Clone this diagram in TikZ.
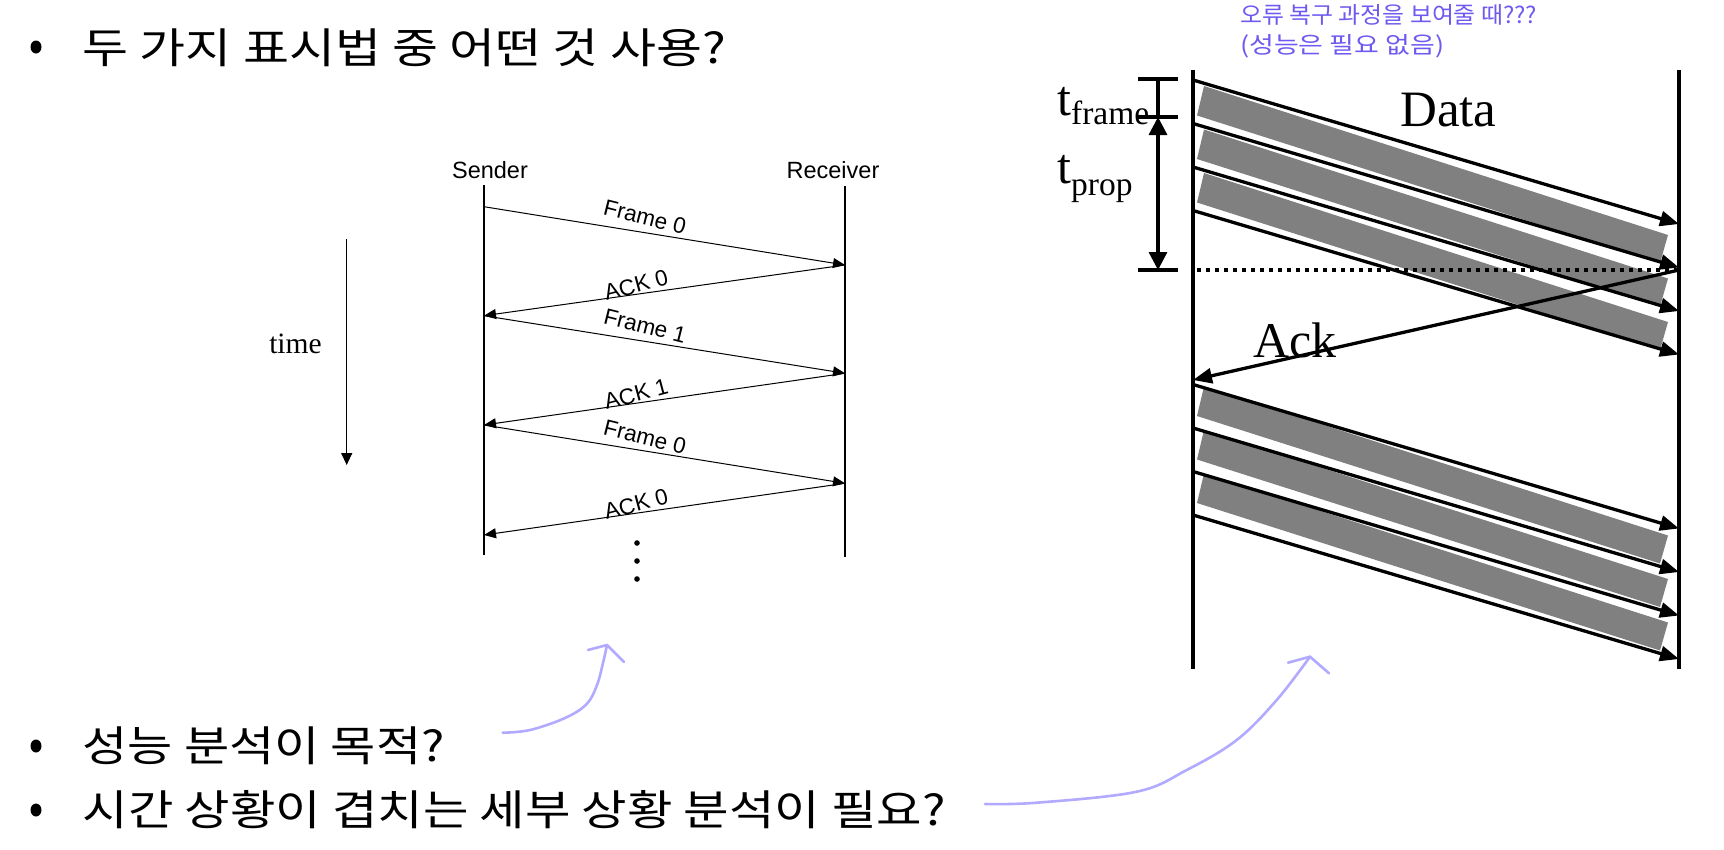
\documentclass[tikz,border=0pt]{standalone}
\usepackage{fontspec}
\usepackage{graphicx}
\usetikzlibrary{arrows.meta}
\setmainfont{Liberation Serif}
\newfontfamily\arialf{Liberation Sans}
\newfontfamily\timesf{Liberation Serif}
\newfontfamily\krf{Noto Sans CJK KR}[WordSpace=2]
\newfontfamily\krnote{Noto Sans CJK KR}
\definecolor{notecol}{RGB}{110,90,240}
\definecolor{handcol}{RGB}{178,170,255}
\definecolor{bargray}{RGB}{128,128,128}
\begin{document}
\begin{tikzpicture}[x=1pt,y=-1pt,
  lifeline/.style={line width=1.2pt},
  msg/.style={line width=1pt,-{Triangle[length=12pt,width=10pt]}},
  msglabel/.style={font=\arialf\fontsize{22.5}{22.5}\selectfont, inner sep=0pt},
  heavy/.style={line width=3.3pt},
  dataarrow/.style={line width=3.3pt,-{Triangle[length=19pt,width=15pt]}},
  barshape/.style={fill=bargray, draw=none},
  hand/.style={draw=handcol, line width=2.6pt, line cap=round, line join=round},
  bulletdot/.style={fill=black},
  krtext/.style={anchor=west, inner sep=0pt}]
\fill[white] (0,0) rectangle (1724,849);
\useasboundingbox (0,0) rectangle (1724,849);

% ---------- bullets ----------
\fill[bulletdot] (36,47) ellipse [x radius=5.5pt, y radius=6.5pt];
\fill[bulletdot] (36,746) ellipse [x radius=5.5pt, y radius=6.5pt];
\fill[bulletdot] (36,810) ellipse [x radius=5.5pt, y radius=6.5pt];
\node[krtext] (b1) at (82.5,48) {\resizebox{643pt}{\height}{\krf\fontsize{42}{42}\selectfont 두 가지 표시법 중 어떤 것 사용?}};
\node[krtext] (b2) at (82.5,745.5) {\resizebox{362pt}{\height}{\krf\fontsize{42}{42}\selectfont 성능 분석이 목적?}};
\node[krtext] (b3) at (82.5,810) {\resizebox{863pt}{\height}{\krf\fontsize{42}{42}\selectfont 시간 상황이 겹치는 세부 상황 분석이 필요?}};

% ---------- annotation ----------
\node[krtext, text=notecol] (n1) at (1240,15) {\resizebox{297pt}{\height}{\krnote\fontsize{23}{23}\selectfont 오류 복구 과정을 보여줄 때???}};
\node[krtext, text=notecol] (n2) at (1240,46) {\resizebox{204pt}{\height}{\krnote\fontsize{23}{23}\selectfont (성능은 필요 없음)}};

% ---------- left diagram ----------
\node[font=\arialf\fontsize{23.5}{23.5}\selectfont, inner sep=0pt] (sender) at (490,170) {Sender};
\node[font=\arialf\fontsize{23.5}{23.5}\selectfont, inner sep=0pt] (receiver) at (833,170) {Receiver};
\coordinate (sTop) at (484,185);
\coordinate (sBot) at (484,555);
\coordinate (rTop) at (845,186);
\coordinate (rBot) at (845,557);
\draw[lifeline] (sTop) -- (sBot);
\draw[lifeline] (rTop) -- (rBot);
\coordinate (S0) at (484,206.7);
\coordinate (R0) at (845,265);
\coordinate (S1) at (484,315.7);
\coordinate (R1) at (845,373.3);
\coordinate (S2) at (484,425);
\coordinate (R2) at (845,483.3);
\coordinate (S3) at (484,535);
\draw[msg] (S0) -- (R0);
\draw[msg] (R0) -- (S1);
\draw[msg] (S1) -- (R1);
\draw[msg] (R1) -- (S2);
\draw[msg] (S2) -- (R2);
\draw[msg] (R2) -- (S3);
\node[msglabel, rotate=-14] (l1) at (645,217) {Frame 0};
\node[msglabel, rotate=15] (l2) at (636,285) {ACK 0};
\node[msglabel, rotate=-14] (l3) at (645,326) {Frame 1};
\node[msglabel, rotate=15] (l4) at (636,394) {ACK 1};
\node[msglabel, rotate=-14] (l5) at (645,437) {Frame 0};
\node[msglabel, rotate=15] (l6) at (636,504) {ACK 0};
\fill (637,543) circle (2.8pt);
\fill (637,561) circle (2.8pt);
\fill (637,579) circle (2.8pt);
% time
\coordinate (tTop) at (346.7,239.3);
\coordinate (tBot) at (346.7,465);
\draw[line width=1.3pt, -{Triangle[length=12pt,width=11pt]}] (tTop) -- (tBot);
\node[anchor=base, inner sep=0pt, font=\timesf\fontsize{29.5}{29.5}\selectfont] (timelbl) at (295.5,353.3) {time};

% ---------- right diagram ----------
\coordinate (LT) at (1193,70);
\coordinate (LB) at (1193,669);
\coordinate (RT) at (1679,70);
\coordinate (RB) at (1679,669);

% gray bars (upper)
\foreach \y in {86,129.5,173,386.5,430,473.5}{
  \fill[barshape] (1204,\y) -- (1668,\y+149) -- (1660,\y+177) -- (1197,\y+29.5) -- cycle;
}

\draw[heavy] (LT) -- (LB);
\draw[heavy] (RT) -- (RB);

% ticks
\coordinate (k1a) at (1138,79);  \coordinate (k1b) at (1178,79);
\coordinate (k2a) at (1138,117); \coordinate (k2b) at (1178,117);
\coordinate (k3a) at (1138,270); \coordinate (k3b) at (1178,270);
\draw[heavy] (k1a) -- (k1b);
\draw[heavy] (k2a) -- (k2b);
\draw[heavy] (k3a) -- (k3b);
\coordinate (v1) at (1158,79);
\coordinate (v2) at (1158,117);
\coordinate (v3) at (1158,270);
\draw[heavy] (v1) -- (v2);
\draw[heavy, {Triangle[length=18pt,width=18pt]}-{Triangle[length=18pt,width=18pt]}] (v2) -- (v3);

% dotted
\coordinate (d1) at (1197,270);
\coordinate (d2) at (1679,270);
\draw[line width=4pt, dash pattern=on 4pt off 5pt] (d1) -- (d2);

% data arrows
\foreach \y in {80,123.5,167,210.5,384.5,428,471.5,515}{
  \draw[dataarrow] (1193,\y) -- (1679,\y+144);
}
% ack arrow
\coordinate (ackS) at (1679,270);
\coordinate (ackE) at (1193,380);
\draw[dataarrow] (ackS) -- (ackE);

% labels
\node[anchor=base west, inner sep=0pt, font=\timesf] (tf) at (1057,115) {\fontsize{50}{50}\selectfont t\raisebox{-9pt}{\fontsize{33.5}{33.5}\selectfont frame}};
\node[anchor=base west, inner sep=0pt, font=\timesf] (tp) at (1057,183.6) {\fontsize{50}{50}\selectfont t\raisebox{-12pt}{\fontsize{33.5}{33.5}\selectfont prop}};
\node[anchor=base west, inner sep=0pt, font=\timesf\fontsize{51}{51}\selectfont] (data) at (1400,126) {Data};
\node[anchor=base west, inner sep=0pt, font=\timesf\fontsize{50}{50}\selectfont] (ack) at (1253,357) {Ack};

% ---------- hand-drawn arrows ----------
\draw[hand] plot[smooth, tension=0.6] coordinates {(502.7,732.7) (530,730) (565,718) (586.7,704) (597,685) (603,663) (607,645)};
\draw[hand] (588,650) -- (607,645) -- (624,662);
\draw[hand] plot[smooth, tension=0.6] coordinates {(985,804) (1036.7,802.7) (1136.7,791.7) (1186.7,770) (1236.7,740) (1276.7,700) (1310,656.7)};
\draw[hand] (1288,662.7) -- (1310,656.7) -- (1329,673.3);
\end{tikzpicture}
\end{document}
